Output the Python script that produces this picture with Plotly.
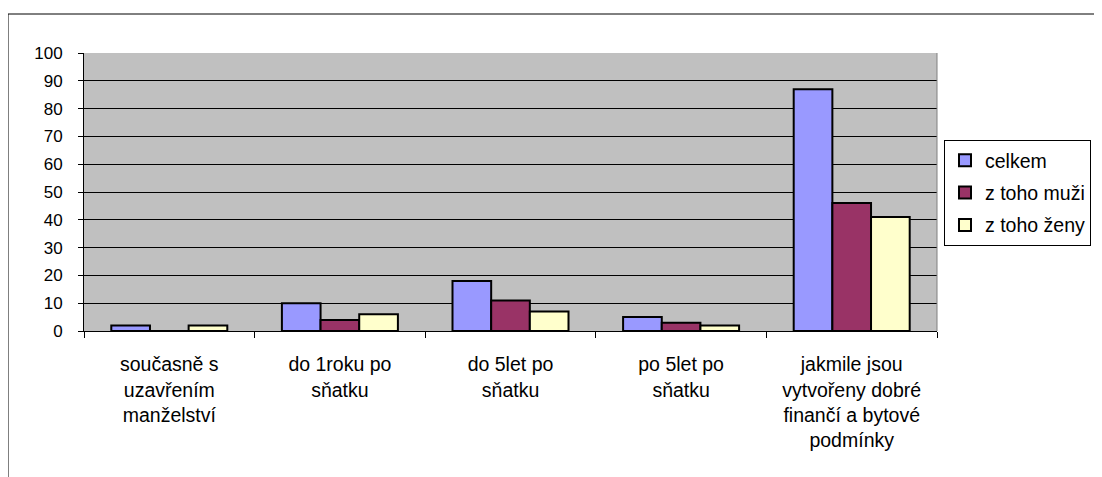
import plotly.graph_objects as go

categories = [
    "současně s<br>uzavřením<br>manželství",
    "do 1roku po<br>sňatku",
    "do 5let po<br>sňatku",
    "po 5let po<br>sňatku",
    "jakmile jsou<br>vytvořeny dobré<br>finančí a bytové<br>podmínky",
]
celkem = [2, 10, 18, 5, 87]
muzi = [0, 4, 11, 3, 46]
zeny = [2, 6, 7, 2, 41]
series_names = ["celkem", "z toho muži", "z toho ženy"]
series_colors = ["#9999FF", "#993366", "#FFFFCC"]
y_ticks = list(range(0, 101, 10))

FONT = "Liberation Sans, Arial, sans-serif"
fig = go.Figure()
for name, vals, col in zip(series_names, [celkem, muzi, zeny], series_colors):
    fig.add_trace(go.Bar(
        x=categories, y=vals, name=name, legendgroup=name,
        marker=dict(color=col, line=dict(color="black", width=2)),
    ))

# page has an 8px body margin; work in figure coordinates = page - 8
OFF = 8
W, H = 1102 - OFF, 477 - OFF
L, R, T, B = 84 - OFF, 937 - OFF, 53 - OFF, 331 - OFF
pw, ph = R - L, B - T

def px_x(x):
    return (x - OFF - L) / pw

def px_y(y):
    return (B - (y - OFF)) / ph

fig.update_layout(
    width=W, height=H,
    margin=dict(l=L, r=W - R, t=T, b=H - B, autoexpand=False),
    paper_bgcolor="white",
    plot_bgcolor="#C0C0C0",
    barmode="group",
    bargap=0.32,
    bargroupgap=0,
    font=dict(family=FONT, size=19, color="black"),
    showlegend=True,
    legend=dict(
        xref="container", yref="container",
        x=(944 - OFF) / W, y=1 - (140 - OFF) / H, xanchor="left", yanchor="top",
        bordercolor="black", borderwidth=1, bgcolor="white",
        font=dict(family=FONT, size=19.5, color="black"),
        itemwidth=30, tracegroupgap=4,
    ),
    xaxis=dict(
        showline=True, linecolor="black", linewidth=1,
        ticks="outside", ticklen=6, tickcolor="black",
        tickson="boundaries", showgrid=False,
        tickangle=0, ticklabelstandoff=16,
        tickfont=dict(family=FONT, size=19.5),
    ),
    yaxis=dict(
        range=[0, 100], tickvals=y_ticks,
        showline=True, linecolor="black", linewidth=1,
        ticks="outside", ticklen=5, tickcolor="black",
        showgrid=True, gridcolor="black", gridwidth=1,
        zeroline=False, ticklabelstandoff=12,
        tickfont=dict(family=FONT, size=17),
    ),
    shapes=[
        dict(type="rect", xref="paper", yref="paper",
             x0=px_x(8), x1=px_x(1101), y0=px_y(490), y1=px_y(14),
             line=dict(color="black", width=1), fillcolor="rgba(0,0,0,0)", layer="below"),
        dict(type="line", xref="paper", yref="paper",
             x0=1, x1=1, y0=0, y1=1,
             line=dict(color="#808080", width=1)),
    ],
)

fig.write_html("out.html")
